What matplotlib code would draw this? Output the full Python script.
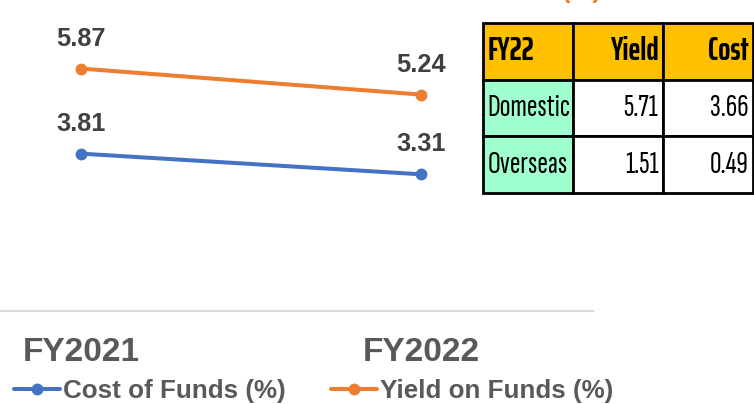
import matplotlib
matplotlib.use("Agg")
import matplotlib.pyplot as plt

categories = ["FY2021", "FY2022"]
cost_of_funds = [3.81, 3.31]
yield_on_funds = [5.87, 5.24]
series_names = ["Cost of Funds (%)", "Yield on Funds (%)"]

table_header = ["FY22", "Yield", "Cost"]
table_rows = [["Domestic", "5.71", "3.66"],
              ["Overseas", "1.51", "0.49"]]

BLUE = "#4472C4"
ORANGE = "#ED7D31"
GRAY = "#595959"
LABEL = "#404040"

W, H = 754, 404
plt.rcParams['font.family'] = ['Liberation Sans', 'DejaVu Sans']
fig = plt.figure(figsize=(W / 100, H / 100), dpi=100)

ax = fig.add_axes([0, (H - 311) / H, 593 / W, 311 / H])
x = list(range(len(categories)))
l1, = ax.plot(x, cost_of_funds, color=BLUE, lw=2.9, marker='o', ms=7.5,
              solid_capstyle='round', label=series_names[0])
l2, = ax.plot(x, yield_on_funds, color=ORANGE, lw=2.9, marker='o', ms=7.5,
              solid_capstyle='round', label=series_names[1])
for xs, ys in [(x, cost_of_funds), (x, yield_on_funds)]:
    for xi, yi in zip(xs, ys):
        ax.annotate(f"{yi:.2f}", (xi, yi), xytext=(0, 21.5), textcoords='offset points',
                    ha='center', va='center', fontsize=18.3, fontweight='bold', color=LABEL)
ax.set_xlim(-81 / 340, 1 + 172 / 340)
ax.set_ylim(0, 311 / 41.3)
ax.set_xticks(x)
ax.set_xticklabels(categories, fontsize=24, fontweight='bold', color=GRAY)
ax.tick_params(axis='x', length=0, pad=19)
ax.set_yticks([])
for s in ['top', 'right', 'left']:
    ax.spines[s].set_visible(False)
ax.spines['bottom'].set_color('#D9D9D9')
ax.spines['bottom'].set_linewidth(1.5)
ax.patch.set_alpha(0)

leg = fig.legend(handles=[l1, l2], loc='center left', bbox_to_anchor=(14 / W, 1 - 391 / H),
                 ncol=2, frameon=False, borderpad=0, borderaxespad=0,
                 handlelength=1.77, handletextpad=0.12, columnspacing=1.73,
                 prop={'size': 18.7, 'weight': 'bold'})
for t in leg.get_texts():
    t.set_color(GRAY)

# partially visible title at top
fig.text(582 / W, 1 + 2.5 / H, "(%)", ha='center', va='baseline', fontsize=18.5,
         fontweight='bold', color=ORANGE)

# table
tax = fig.add_axes([483 / W, (H - 193) / H, 270 / W, 170 / H])
tax.axis('off')
tbl = tax.table(cellText=[table_header] + table_rows, bbox=[0, 0, 1, 1], cellLoc='right')
tbl.auto_set_font_size(False)
for (r, c), cell in tbl.get_celld().items():
    cell.set_linewidth(2)
    cell.set_edgecolor('black')
    cell.PAD = 0.05
    txt = cell.get_text()
    if r == 0:
        cell.set_facecolor('#FFC000')
        txt.set_family(['Saira ExtraCondensed', 'DejaVu Sans'])
        txt.set_fontweight('bold')
        txt.set_fontsize(23)
    else:
        cell.set_facecolor('#9FFFCF' if c == 0 else 'white')
        txt.set_family(['Sofia Sans Extra Condensed', 'DejaVu Sans'])
        txt.set_fontsize(23)
    if c == 0:
        cell._loc = 'left'
        txt.set_ha('left')

fig.savefig("out.png", dpi=100)
